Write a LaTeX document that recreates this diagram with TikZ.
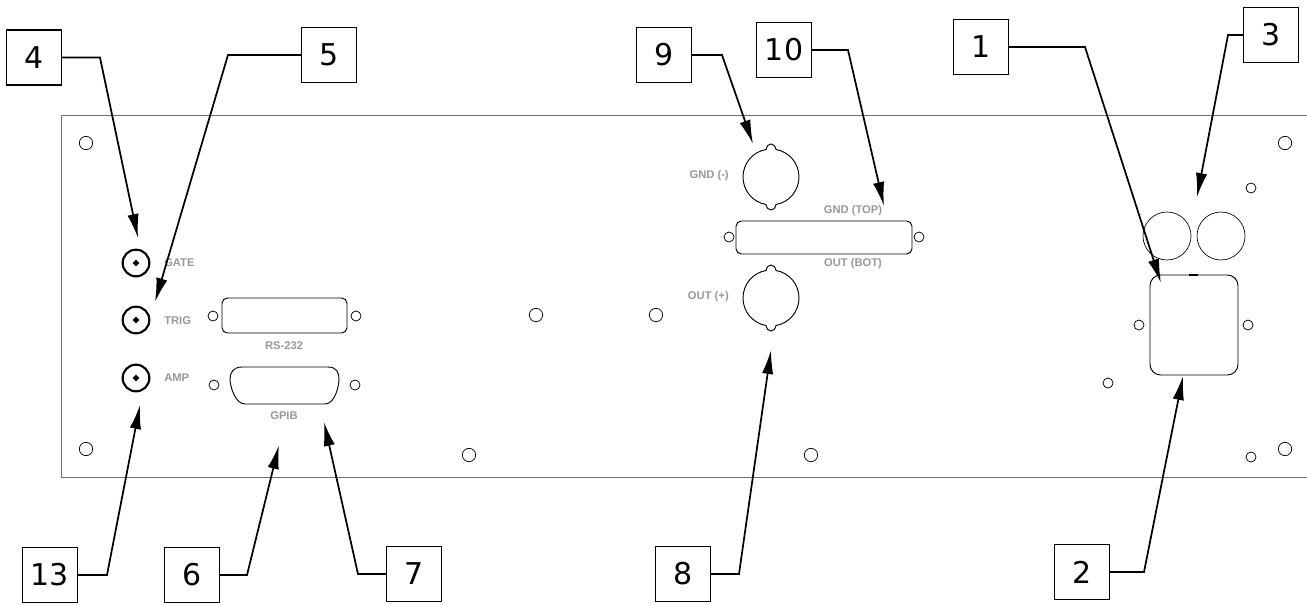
\documentclass[tikz,border=0pt]{standalone}
\usepackage{fontspec}
\setmainfont{DejaVu Sans}
\newfontfamily\lblfont{Liberation Sans}
\usetikzlibrary{arrows.meta}
\definecolor{lblgrey}{HTML}{999999}
\definecolor{panelgrey}{HTML}{707070}
\tikzset{
 callout/.style={draw=black,line width=1.2pt,fill=white,minimum width=41pt,minimum height=41pt,inner sep=0pt,font=\fontsize{22.5}{22.5}\selectfont},
 leader/.style={line width=1.3pt,-{Latex[length=18pt,width=8.5pt]}},
 panel/.style={draw=panelgrey,line width=0.6pt},
 hole/.style={circle,draw=black,line width=0.55pt,minimum size=10pt,inner sep=0pt},
 mhole/.style={circle,draw=black,line width=0.55pt,minimum size=7.5pt,inner sep=0pt},
 bnc/.style={circle,draw=black,line width=1.6pt,minimum size=20pt,inner sep=0pt},
 bncpin/.style={circle,draw=black,fill=white,line width=1.7pt,minimum size=2.8pt,inner sep=0pt},
 cutout/.style={draw=black,line width=0.7pt},
 silk/.style={text=lblgrey,font=\lblfont\bfseries\fontsize{8.4}{9}\selectfont,inner sep=0pt},
}
\begin{document}
\begin{tikzpicture}[x=0.75pt,y=-0.75pt]
\useasboundingbox (0,0) rectangle (1307,604);
\fill[white] (0,0) rectangle (1307,604);
% panel
\draw[panel] (1307,115) -- (61,115) -- (61,477) -- (1307,477);
% mounting holes
\foreach \n/\x/\y in {a/86/143,b/86/449,c/1285/143,d/1285/449,e/536/315,f/656/315,g/469/455,h/811/455}
  \node[hole] (h\n) at (\x,\y) {};
\foreach \n/\x/\y in {a/1251/188,b/1251/457,c/1108/383,d/1139/325,e/1248/325,f/213/316,g/356/316,h/214/385,i/355/385,j/729/237,k/919/237}
  \node[mhole] (m\n) at (\x,\y) {};
% BNC
\foreach \n/\y in {g/263,t/320,a/378}{
  \node[bnc] (bnc\n) at (136,\y) {};
  \node[bncpin] (pin\n) at (136,\y) {};
}
% connectors
\draw[cutout,rounded corners=4pt] (222,298) rectangle (347,333);
\draw[cutout,rounded corners=4pt] (736,221) rectangle (912,254);
\draw[cutout] (242,367) -- (328,367) .. controls (337,367) and (339,373) .. (339,379) .. controls (339,386) and (335,404) .. (325,404) -- (245,404) .. controls (235,404) and (230,386) .. (230,379) .. controls (230,373) and (233,367) .. (242,367) -- cycle;
\foreach \y in {177,298}{
 \draw[cutout,shift={(771,\y)}] (5,-27.5) .. controls (18.3,-25.2) and (28,-13.6) .. (28,0) .. controls (28,13.6) and (18.3,25.2) .. (5,27.5) .. controls (4,31) and (3,33) .. (0,33) .. controls (-3,33) and (-4,31) .. (-5,27.5) .. controls (-18.3,25.2) and (-28,13.6) .. (-28,0) .. controls (-28,-13.6) and (-18.3,-25.2) .. (-5,-27.5) .. controls (-4,-31) and (-3,-33) .. (0,-33) .. controls (3,-33) and (4,-31) .. (5,-27.5) -- cycle;
}
% power
\node[circle,draw=black,line width=0.5pt,minimum size=36pt,inner sep=0pt] (fuse1) at (1167,236) {};
\node[circle,draw=black,line width=0.5pt,minimum size=36pt,inner sep=0pt] (fuse2) at (1221,236) {};
\draw[cutout,rounded corners=8pt] (1150,275) rectangle (1238,375);
\draw[line width=1pt] (1189,275) -- (1198,275);
% silk labels
\node[silk,anchor=west] (lg) at (164,263) {GATE};
\node[silk,anchor=west] (lt) at (164,321) {TRIG};
\node[silk,anchor=west] (la) at (164,378) {AMP};
\node[silk] (lr) at (284,346) {RS-232};
\node[silk] (lb) at (284,416) {GPIB};
\node[silk,anchor=east] (lgm) at (729,176) {GND (-)};
\node[silk,anchor=east] (lop) at (729,297) {OUT (+)};
\node[silk] (lgt) at (853,211) {GND (TOP)};
\node[silk] (lob) at (853,264) {OUT (BOT)};
% callouts
\node[callout] (b4) at (34,57.5) {4};
\node[callout] (b5) at (329,55) {5};
\node[callout] (b9) at (664,55) {9};
\node[callout] (b10) at (784,50) {10};
\node[callout] (b1) at (981,47) {1};
\node[callout] (b3) at (1271,35) {3};
\node[callout] (b13) at (50,575) {13};
\node[callout] (b6) at (192,575) {6};
\node[callout] (b7) at (414,574) {7};
\node[callout] (b8) at (683,574) {8};
\node[callout] (b2) at (1082,572) {2};
% leaders
\coordinate (tip4) at (138,238);\coordinate (tip5) at (155,302);\coordinate (tip9) at (753,144);\coordinate (tip10) at (884,206);\coordinate (tip1) at (1161,283);\coordinate (tip3) at (1197,197);\coordinate (tip13) at (140,405);\coordinate (tip6) at (279,445);\coordinate (tip7) at (324,422);\coordinate (tip8) at (771,350);\coordinate (tip2) at (1183,376);
\coordinate (c4) at (100,57.5);\coordinate (c5) at (228,55);\coordinate (c9) at (722,55);\coordinate (c10) at (848,50);\coordinate (c1) at (1085,47);\coordinate (c3) at (1228,35);\coordinate (c13) at (107,575);\coordinate (c6) at (247,575);\coordinate (c7) at (358,574);\coordinate (c8) at (739,574);\coordinate (c2) at (1144,572);
\draw[leader] (b4.east) -- (c4) -- (tip4);
\draw[leader] (b5.west) -- (c5) -- (tip5);
\draw[leader] (b9.east) -- (c9) -- (tip9);
\draw[leader] (b10.east) -- (c10) -- (tip10);
\draw[leader] (b1.east) -- (c1) -- (tip1);
\draw[leader] (b3.west) -- (c3) -- (tip3);
\draw[leader] (b13.east) -- (c13) -- (tip13);
\draw[leader] (b6.east) -- (c6) -- (tip6);
\draw[leader] (b7.west) -- (c7) -- (tip7);
\draw[leader] (b8.east) -- (c8) -- (tip8);
\draw[leader] (b2.east) -- (c2) -- (tip2);
\end{tikzpicture}
\end{document}
